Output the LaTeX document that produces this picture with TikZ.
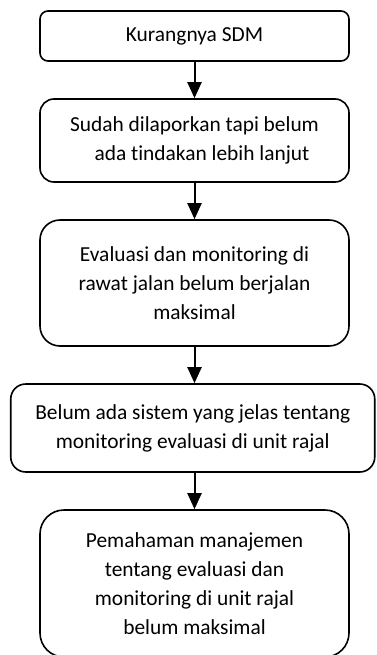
\documentclass[tikz,border=0pt]{standalone}
\usepackage{fontspec}
\setmainfont{Carlito}[Ligatures=NoCommon]
\usetikzlibrary{arrows.meta}

\begin{document}
\begin{tikzpicture}[x=1pt,y=-1pt,
    stage/.style={draw,line width=1.6pt,align=center,minimum width=309pt,
      font=\fontsize{21.4}{29}\selectfont},
    flow/.style={-{Triangle[width=14pt,length=16pt]},line width=2pt}]
    \useasboundingbox (0,0) rectangle (376,655);

    \node[stage,rounded corners=8pt,minimum height=50pt](kurang) at (194.5,36) {Kurangnya SDM};
    \node[stage,rounded corners=14pt,minimum height=83pt](laporan) at (194.5,140.5) {Sudah dilaporkan tapi belum\\\hspace{0.7em}ada tindakan lebih lanjut};
    \node[stage,rounded corners=20pt,minimum height=126pt](evaluasi) at (194.5,283) {Evaluasi dan monitoring di\\rawat jalan belum berjalan\\maksimal};
    \node[stage,rounded corners=15pt,minimum width=364pt,minimum height=88pt](sistem) at (192.75,428) {Belum ada sistem yang jelas tentang\\monitoring evaluasi di unit rajal};
    \node[stage,rounded corners=24pt,minimum height=147pt](paham) at (194.5,583.5) {Pemahaman manajemen\\tentang evaluasi dan\\monitoring di unit rajal\\belum maksimal};

    \draw [flow] (kurang.south) -- (laporan.north);
    \draw [flow] (laporan.south) -- (evaluasi.north);
    \draw [flow] (evaluasi.south) -- (evaluasi.south |- sistem.north);
    \draw [flow] (evaluasi.south |- sistem.south) -- (paham.north);
\end{tikzpicture}
\end{document}
